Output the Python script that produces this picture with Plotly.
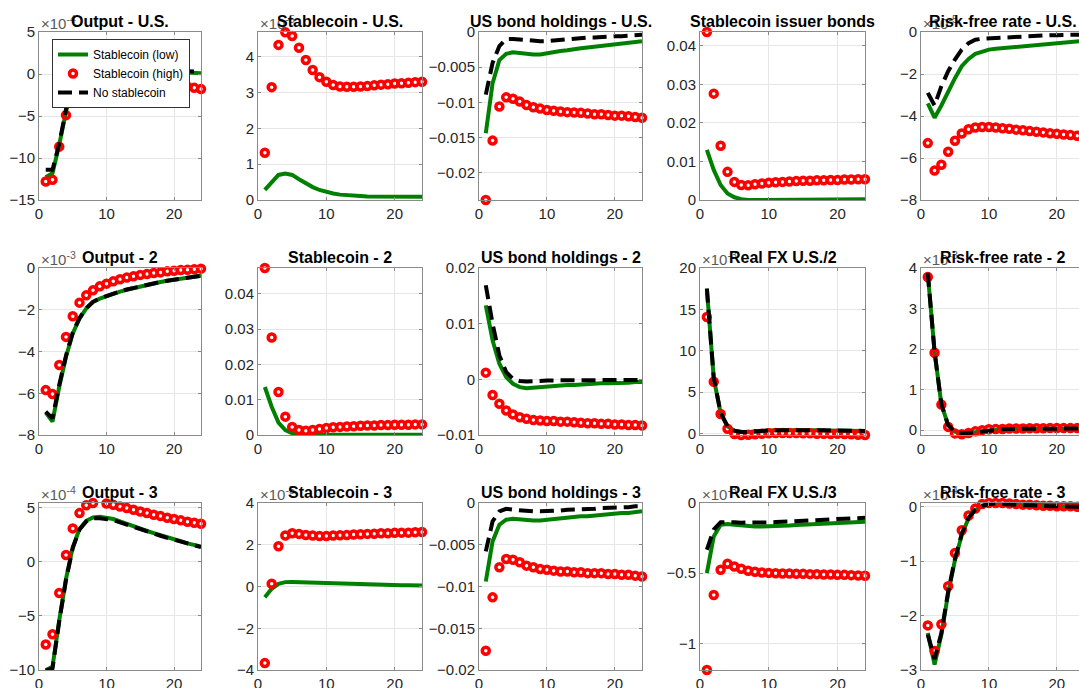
import plotly.graph_objects as go

# ---------------- data (horizon 1..24) ----------------
t = list(range(1, 25))

# Output - U.S. (x1e-4)
out_us_low = [-12.3,-11.8,-8.4,-4.5,-1.3,0.0,0.5,0.6,0.6,0.6,0.55,0.5,0.5,0.45,0.4,0.4,0.35,0.3,0.3,0.25,0.2,0.2,0.15,0.1]
out_us_high = [-12.8,-12.6,-8.65,-4.9,-2.4,-1.2,-0.8,-0.7,-0.7,-0.75,-0.8,-0.85,-0.9,-1.0,-1.05,-1.1,-1.2,-1.25,-1.3,-1.4,-1.45,-1.5,-1.65,-1.8]
out_us_none = [-11.4,-11.4,-8.3,-4.2,-1.0,0.2,0.6,0.7,0.7,0.7,0.65,0.6,0.6,0.55,0.5,0.5,0.45,0.45,0.4,0.4,0.35,0.35,0.3,0.3]

# Stablecoin - U.S. (x1e-5)
sc_us_low = [0.28,0.51,0.70,0.74,0.70,0.58,0.46,0.36,0.28,0.22,0.18,0.15,0.13,0.12,0.11,0.10,0.10,0.10,0.09,0.09,0.09,0.09,0.09,0.09]
sc_us_high = [1.32,3.15,4.33,4.68,4.58,4.25,3.91,3.63,3.43,3.30,3.21,3.17,3.16,3.16,3.17,3.18,3.20,3.22,3.23,3.25,3.26,3.27,3.29,3.30]

# US bond holdings - U.S.
bond_us_low = [-0.0144,-0.0073,-0.0040,-0.0031,-0.0029,-0.0030,-0.0032,-0.0032,-0.0032,-0.0030,-0.0029,-0.0027,-0.0026,-0.0024,-0.0023,-0.0022,-0.0021,-0.0019,-0.0018,-0.0017,-0.0016,-0.0015,-0.0014,-0.0013]
bond_us_high = [-0.0239,-0.01545,-0.0106,-0.0093,-0.0095,-0.0099,-0.0104,-0.0107,-0.0109,-0.0111,-0.0112,-0.0113,-0.0114,-0.01145,-0.0115,-0.0116,-0.0117,-0.0117,-0.0118,-0.0119,-0.0119,-0.0120,-0.0121,-0.0122]
bond_us_none = [-0.0089,-0.0044,-0.0020,-0.0010,-0.0010,-0.0011,-0.0012,-0.0013,-0.0013,-0.0013,-0.0012,-0.0011,-0.0010,-0.0009,-0.0009,-0.0008,-0.0008,-0.0007,-0.0006,-0.0006,-0.0006,-0.0005,-0.0005,-0.0004]

# Stablecoin issuer bonds
iss_low = [0.0130,0.0078,0.0039,0.0017,0.0007,0.0002,0.0000,0.0000,0.0001,0.0001,0.0001,0.0001,0.0001,0.0001,0.0001,0.0002,0.0002,0.0002,0.0002,0.0002,0.0002,0.0002,0.0002,0.0002]
iss_high = [0.0436,0.0276,0.0141,0.0073,0.0047,0.0039,0.0038,0.0041,0.0043,0.0045,0.0046,0.0047,0.0048,0.0049,0.0050,0.0050,0.0051,0.0051,0.0052,0.0052,0.0053,0.0053,0.0054,0.0054]

# Risk-free rate - U.S. (x1e-5)
rf_us_low = [-3.4,-4.08,-3.5,-2.8,-2.2,-1.63,-1.28,-1.04,-0.92,-0.84,-0.80,-0.77,-0.74,-0.71,-0.68,-0.65,-0.62,-0.59,-0.56,-0.53,-0.50,-0.47,-0.44,-0.42]
rf_us_high = [-5.29,-6.6,-6.32,-5.7,-5.18,-4.83,-4.63,-4.55,-4.52,-4.52,-4.55,-4.58,-4.61,-4.65,-4.68,-4.72,-4.75,-4.78,-4.82,-4.85,-4.88,-4.91,-4.94,-4.99]
rf_us_none = [-2.9,-3.5,-2.58,-1.87,-1.31,-0.84,-0.53,-0.37,-0.32,-0.30,-0.28,-0.25,-0.24,-0.22,-0.20,-0.19,-0.18,-0.16,-0.15,-0.15,-0.13,-0.13,-0.12,-0.12]

# Output - 2 (x1e-3)
out2_low = [-6.93,-7.36,-5.69,-4.25,-3.14,-2.42,-1.94,-1.63,-1.47,-1.34,-1.23,-1.13,-1.04,-0.96,-0.88,-0.80,-0.73,-0.67,-0.61,-0.56,-0.51,-0.46,-0.41,-0.37]
out2_high = [-5.85,-6.04,-4.65,-3.3,-2.31,-1.66,-1.31,-1.07,-0.88,-0.75,-0.64,-0.54,-0.46,-0.40,-0.33,-0.29,-0.24,-0.21,-0.16,-0.13,-0.10,-0.08,-0.06,-0.03]
out2_none = [-6.88,-7.2,-5.6,-4.2,-3.1,-2.4,-1.92,-1.62,-1.46,-1.33,-1.22,-1.12,-1.03,-0.95,-0.87,-0.80,-0.73,-0.67,-0.61,-0.56,-0.51,-0.46,-0.41,-0.37]

# Stablecoin - 2
sc2_low = [0.0136,0.0080,0.0035,0.0014,0.0005,0.0000,-0.0001,0.0000,0.0000,0.0001,0.0001,0.0001,0.0001,0.0001,0.0001,0.0001,0.0001,0.0001,0.0001,0.0001,0.0001,0.0001,0.0001,0.0001]
sc2_high = [0.0473,0.0276,0.0122,0.0052,0.0023,0.0014,0.0012,0.0014,0.0017,0.0020,0.0022,0.0023,0.0024,0.0025,0.0026,0.0027,0.0027,0.0028,0.0028,0.0029,0.0029,0.0029,0.0030,0.0030]

# US bond holdings - 2
bond2_low = [0.0133,0.0070,0.0028,0.0004,-0.0008,-0.0014,-0.0016,-0.0015,-0.0014,-0.0013,-0.0011,-0.0011,-0.0010,-0.0010,-0.0009,-0.0008,-0.0008,-0.0007,-0.0007,-0.0007,-0.0006,-0.0006,-0.0005,-0.0005]
bond2_high = [0.0012,-0.0028,-0.0044,-0.0056,-0.0063,-0.0068,-0.0071,-0.0073,-0.0074,-0.0075,-0.0075,-0.0076,-0.0076,-0.0077,-0.0078,-0.0079,-0.0079,-0.0080,-0.0080,-0.0081,-0.0081,-0.0082,-0.0082,-0.0083]
bond2_none = [0.0169,0.0100,0.0043,0.0013,0.0001,-0.0003,-0.0004,-0.0004,-0.0003,-0.0002,-0.0002,-0.0002,-0.0002,-0.0002,-0.0001,-0.0001,-0.0001,-0.0001,-0.0001,-0.0001,-0.0001,-0.0001,-0.0001,-0.0001]

# Real FX U.S./2 (x1e-3)
fx2_low = [17.5,6.65,2.45,0.84,0.32,0.16,0.16,0.25,0.30,0.33,0.36,0.38,0.40,0.40,0.39,0.38,0.37,0.35,0.34,0.33,0.31,0.30,0.29,0.28]
fx2_high = [14.07,6.25,2.33,0.56,-0.08,-0.2,-0.16,-0.12,-0.04,0.0,0.04,0.04,0.04,0.04,0.0,0.0,-0.04,-0.04,-0.08,-0.04,-0.08,-0.12,-0.16,-0.2]
fx2_none = [17.5,6.7,2.5,0.86,0.33,0.17,0.17,0.26,0.31,0.34,0.37,0.39,0.41,0.41,0.40,0.39,0.38,0.36,0.35,0.34,0.32,0.31,0.30,0.29]

# Risk-free rate - 2 (x1e-3)
rf2_low = [3.86,1.93,0.64,0.12,-0.04,-0.08,-0.07,-0.05,-0.02,0.0,0.01,0.02,0.03,0.03,0.03,0.035,0.035,0.04,0.04,0.04,0.04,0.04,0.04,0.04]
rf2_high = [3.78,1.91,0.63,0.08,-0.08,-0.10,-0.07,-0.03,0.00,0.02,0.025,0.03,0.04,0.04,0.04,0.045,0.045,0.045,0.05,0.05,0.05,0.05,0.05,0.05]
rf2_none = [3.88,1.93,0.64,0.12,-0.04,-0.08,-0.07,-0.05,-0.02,0.0,0.01,0.02,0.03,0.03,0.03,0.035,0.035,0.04,0.04,0.04,0.04,0.04,0.04,0.04]

# Output - 3 (x1e-4)
out3_low = [-10.0,-9.7,-5.4,-1.6,1.32,3.0,3.76,4.07,4.13,4.07,3.92,3.70,3.46,3.24,3.03,2.82,2.63,2.42,2.23,2.05,1.87,1.68,1.53,1.38]
out3_high = [-7.65,-6.7,-2.9,0.61,3.06,4.47,5.2,5.39,5.45,5.36,5.23,5.08,4.93,4.78,4.62,4.47,4.32,4.19,4.04,3.92,3.80,3.67,3.58,3.49]
out3_none = [-10.07,-9.85,-5.5,-1.7,1.25,2.95,3.7,3.98,4.0,3.95,3.82,3.62,3.40,3.19,2.98,2.77,2.58,2.38,2.19,2.01,1.83,1.65,1.49,1.33]

# Stablecoin - 3 (x1e-5)
sc3_low = [-0.51,-0.11,0.13,0.21,0.22,0.21,0.20,0.18,0.16,0.14,0.13,0.11,0.10,0.10,0.09,0.09,0.08,0.08,0.07,0.07,0.06,0.06,0.06,0.05]
sc3_high = [-3.67,0.13,1.93,2.44,2.55,2.52,2.47,2.44,2.42,2.42,2.44,2.45,2.47,2.49,2.50,2.52,2.53,2.55,2.55,2.57,2.58,2.58,2.60,2.61]

# US bond holdings - 3
bond3_low = [-0.0094,-0.0046,-0.0026,-0.0020,-0.0019,-0.0020,-0.0020,-0.0021,-0.0021,-0.0020,-0.0020,-0.0019,-0.0018,-0.0017,-0.0016,-0.0016,-0.0015,-0.0014,-0.0013,-0.0013,-0.0012,-0.0012,-0.0011,-0.0010]
bond3_high = [-0.0177,-0.0113,-0.0077,-0.0067,-0.0068,-0.0071,-0.0075,-0.0077,-0.0079,-0.0080,-0.0081,-0.0082,-0.0082,-0.0083,-0.0083,-0.0084,-0.0084,-0.0084,-0.0085,-0.0085,-0.0086,-0.0086,-0.0087,-0.0088]
bond3_none = [-0.0058,-0.0022,-0.0010,-0.0007,-0.0008,-0.0009,-0.0010,-0.0010,-0.0010,-0.0010,-0.0009,-0.0009,-0.0008,-0.0008,-0.0008,-0.0007,-0.0007,-0.0006,-0.0006,-0.0006,-0.0005,-0.0005,-0.0004,-0.0004]

# Real FX U.S./3 (x1e-3)
fx3_low = [-0.50,-0.238,-0.155,-0.150,-0.155,-0.160,-0.164,-0.167,-0.167,-0.167,-0.164,-0.162,-0.160,-0.157,-0.155,-0.152,-0.150,-0.148,-0.145,-0.143,-0.140,-0.138,-0.135,-0.133]
fx3_high = [-1.19,-0.655,-0.476,-0.433,-0.452,-0.469,-0.483,-0.49,-0.495,-0.498,-0.50,-0.502,-0.502,-0.505,-0.505,-0.507,-0.507,-0.51,-0.51,-0.512,-0.512,-0.514,-0.517,-0.519]
fx3_none = [-0.333,-0.19,-0.138,-0.136,-0.138,-0.14,-0.141,-0.143,-0.14,-0.138,-0.136,-0.133,-0.131,-0.129,-0.126,-0.124,-0.121,-0.119,-0.117,-0.114,-0.112,-0.11,-0.107,-0.105]

# Risk-free rate - 3 (x1e-4)
rf3_low = [-2.32,-2.9,-2.35,-1.59,-0.98,-0.52,-0.21,-0.06,0.01,0.05,0.06,0.05,0.04,0.04,0.03,0.03,0.02,0.02,0.01,0.01,0.01,0.0,0.0,0.0]
rf3_high = [-2.18,-2.65,-2.16,-1.46,-0.85,-0.43,-0.16,-0.03,0.05,0.07,0.07,0.07,0.06,0.05,0.04,0.04,0.03,0.02,0.02,0.01,0.01,0.01,0.0,0.0]
rf3_none = [-2.35,-2.8,-2.32,-1.56,-0.96,-0.50,-0.20,-0.05,0.02,0.05,0.06,0.05,0.04,0.04,0.03,0.03,0.02,0.02,0.01,0.01,0.01,0.0,0.0,0.0]

titles = ["Output - U.S.", "Stablecoin - U.S.", "US bond holdings - U.S.", "Stablecoin issuer bonds", "Risk-free rate - U.S.",
          "Output - 2", "Stablecoin - 2", "US bond holdings - 2", "Real FX U.S./2", "Risk-free rate - 2",
          "Output - 3", "Stablecoin - 3", "US bond holdings - 3", "Real FX U.S./3", "Risk-free rate - 3"]
exponents = [-4, -5, None, None, -5, -3, None, None, -3, -3, -4, -5, None, -3, -4]
low_series = [out_us_low, sc_us_low, bond_us_low, iss_low, rf_us_low, out2_low, sc2_low, bond2_low, fx2_low, rf2_low,
              out3_low, sc3_low, bond3_low, fx3_low, rf3_low]
high_series = [out_us_high, sc_us_high, bond_us_high, iss_high, rf_us_high, out2_high, sc2_high, bond2_high, fx2_high, rf2_high,
               out3_high, sc3_high, bond3_high, fx3_high, rf3_high]
none_series = [out_us_none, None, bond_us_none, None, rf_us_none, out2_none, None, bond2_none, fx2_none, rf2_none,
               out3_none, None, bond3_none, fx3_none, rf3_none]
y_ranges = [[-15, 5], [0, 4.69], [-0.0239, 0], [0, 0.0436], [-8, 0],
            [-8, 0], [0, 0.0473], [-0.01, 0.02], [-0.2, 20], [-0.12, 4],
            [-10, 5.4], [-4, 4], [-0.02, 0], [-1.19, 0], [-3, 0.07]]
y_ticks = [[-15, -10, -5, 0, 5], [0, 1, 2, 3, 4], [-0.02, -0.015, -0.01, -0.005, 0], [0, 0.01, 0.02, 0.03, 0.04], [-8, -6, -4, -2, 0],
           [-8, -6, -4, -2, 0], [0, 0.01, 0.02, 0.03, 0.04], [-0.01, 0, 0.01, 0.02], [0, 5, 10, 15, 20], [0, 1, 2, 3, 4],
           [-10, -5, 0, 5], [-4, -2, 0, 2, 4], [-0.02, -0.015, -0.01, -0.005, 0], [-1, -0.5, 0], [-3, -2, -1, 0]]
x_ticks = [0, 10, 20]

# ---------------- layout geometry (pixels) ----------------
W, H = 1079, 688
col_left = [39, 258, 479, 700, 921]
col_right = [201, 422, 642, 865, 1079]
row_top = [32, 268, 503]
row_bottom = [200, 435, 670]

GREEN = "#008000"
RED = "#ff0000"
FRAME = "#8a8a8a"
GRID = "#e6e6e6"
TICKC = "#262626"
FONT = "Liberation Sans, Arial, sans-serif"


def fmt(v):
    return f"{v:g}".replace("-", "\u2212")


fig = go.Figure()
layout = {}
annotations = []

for k in range(15):
    r, c = divmod(k, 5)
    n = k + 1
    xa = "x" if n == 1 else f"x{n}"
    ya = "y" if n == 1 else f"y{n}"
    first = (k == 0)

    fig.add_trace(go.Scatter(x=t, y=low_series[k], mode="lines", name="Stablecoin (low)",
                             line=dict(color=GREEN, width=4), xaxis=xa, yaxis=ya,
                             showlegend=first, cliponaxis=False, hoverinfo="skip"))
    fig.add_trace(go.Scatter(x=t, y=high_series[k], mode="markers", name="Stablecoin (high)",
                             marker=dict(symbol="circle-open", size=7, color=RED, line=dict(width=3.5, color=RED)),
                             xaxis=xa, yaxis=ya, showlegend=first, cliponaxis=False, hoverinfo="skip"))
    if none_series[k] is not None:
        fig.add_trace(go.Scatter(x=t, y=none_series[k], mode="lines", name="No stablecoin",
                                 line=dict(color="black", width=4, dash="14px,7px"), xaxis=xa, yaxis=ya,
                                 showlegend=first, cliponaxis=False, hoverinfo="skip"))

    x0 = col_left[c]
    x1 = col_right[c]
    xmax = 24 if c < 4 else 24 * (1079 - 921) / (1084 - 921)
    xkey = "xaxis" if n == 1 else f"xaxis{n}"
    ykey = "yaxis" if n == 1 else f"yaxis{n}"
    layout[xkey] = dict(domain=[x0 / W, x1 / W], anchor=ya, range=[0, xmax], automargin=False,
                        tickvals=x_ticks, ticktext=[fmt(v) for v in x_ticks],
                        ticks="inside", ticklen=3, tickcolor=FRAME, showline=True, linecolor=FRAME,
                        linewidth=1, mirror="ticks", showgrid=True, gridcolor=GRID, gridwidth=1,
                        zeroline=False, tickfont=dict(size=15, color=TICKC, family=FONT),
                        fixedrange=True)
    layout[ykey] = dict(domain=[1 - row_bottom[r] / H, 1 - row_top[r] / H], anchor=xa, automargin=False,
                        range=y_ranges[k], tickvals=y_ticks[k], ticktext=[fmt(v) for v in y_ticks[k]],
                        ticks="inside", ticklen=3, tickcolor=FRAME, showline=True, linecolor=FRAME,
                        linewidth=1, mirror=("ticks" if c < 4 else False), showgrid=True, gridcolor=GRID,
                        gridwidth=1, zeroline=False, tickfont=dict(size=15, color=TICKC, family=FONT),
                        fixedrange=True)

    if exponents[k] is not None:
        annotations.append(dict(text=f"\u00d710<sup>{exponents[k]}</sup>", xref=f"{xa} domain", yref=f"{ya} domain",
                                x=0, y=1, xanchor="left", yanchor="bottom", showarrow=False,
                                font=dict(size=15, color="#5a5a5a", family=FONT), yshift=-2))
    annotations.append(dict(text=f"<b>{titles[k]}</b>", xref=xa, yref=f"{ya} domain",
                            x=12, y=1, xanchor="center", yanchor="bottom", showarrow=False,
                            font=dict(size=16, color="black", family=FONT), yshift=0))

fig.update_layout(**layout)
fig.update_layout(
    width=W, height=H,
    margin=dict(l=0, r=0, t=0, b=0, pad=0, autoexpand=False),
    paper_bgcolor="white", plot_bgcolor="white",
    font=dict(family=FONT),
    annotations=annotations,
    showlegend=True,
    legend=dict(x=52 / W, y=1 - 39 / H, xanchor="left", yanchor="top",
                bgcolor="white", bordercolor="#333333", borderwidth=1,
                font=dict(size=12, color="black", family=FONT),
                itemwidth=30, tracegroupgap=0),
)

fig.write_html("out.html")
